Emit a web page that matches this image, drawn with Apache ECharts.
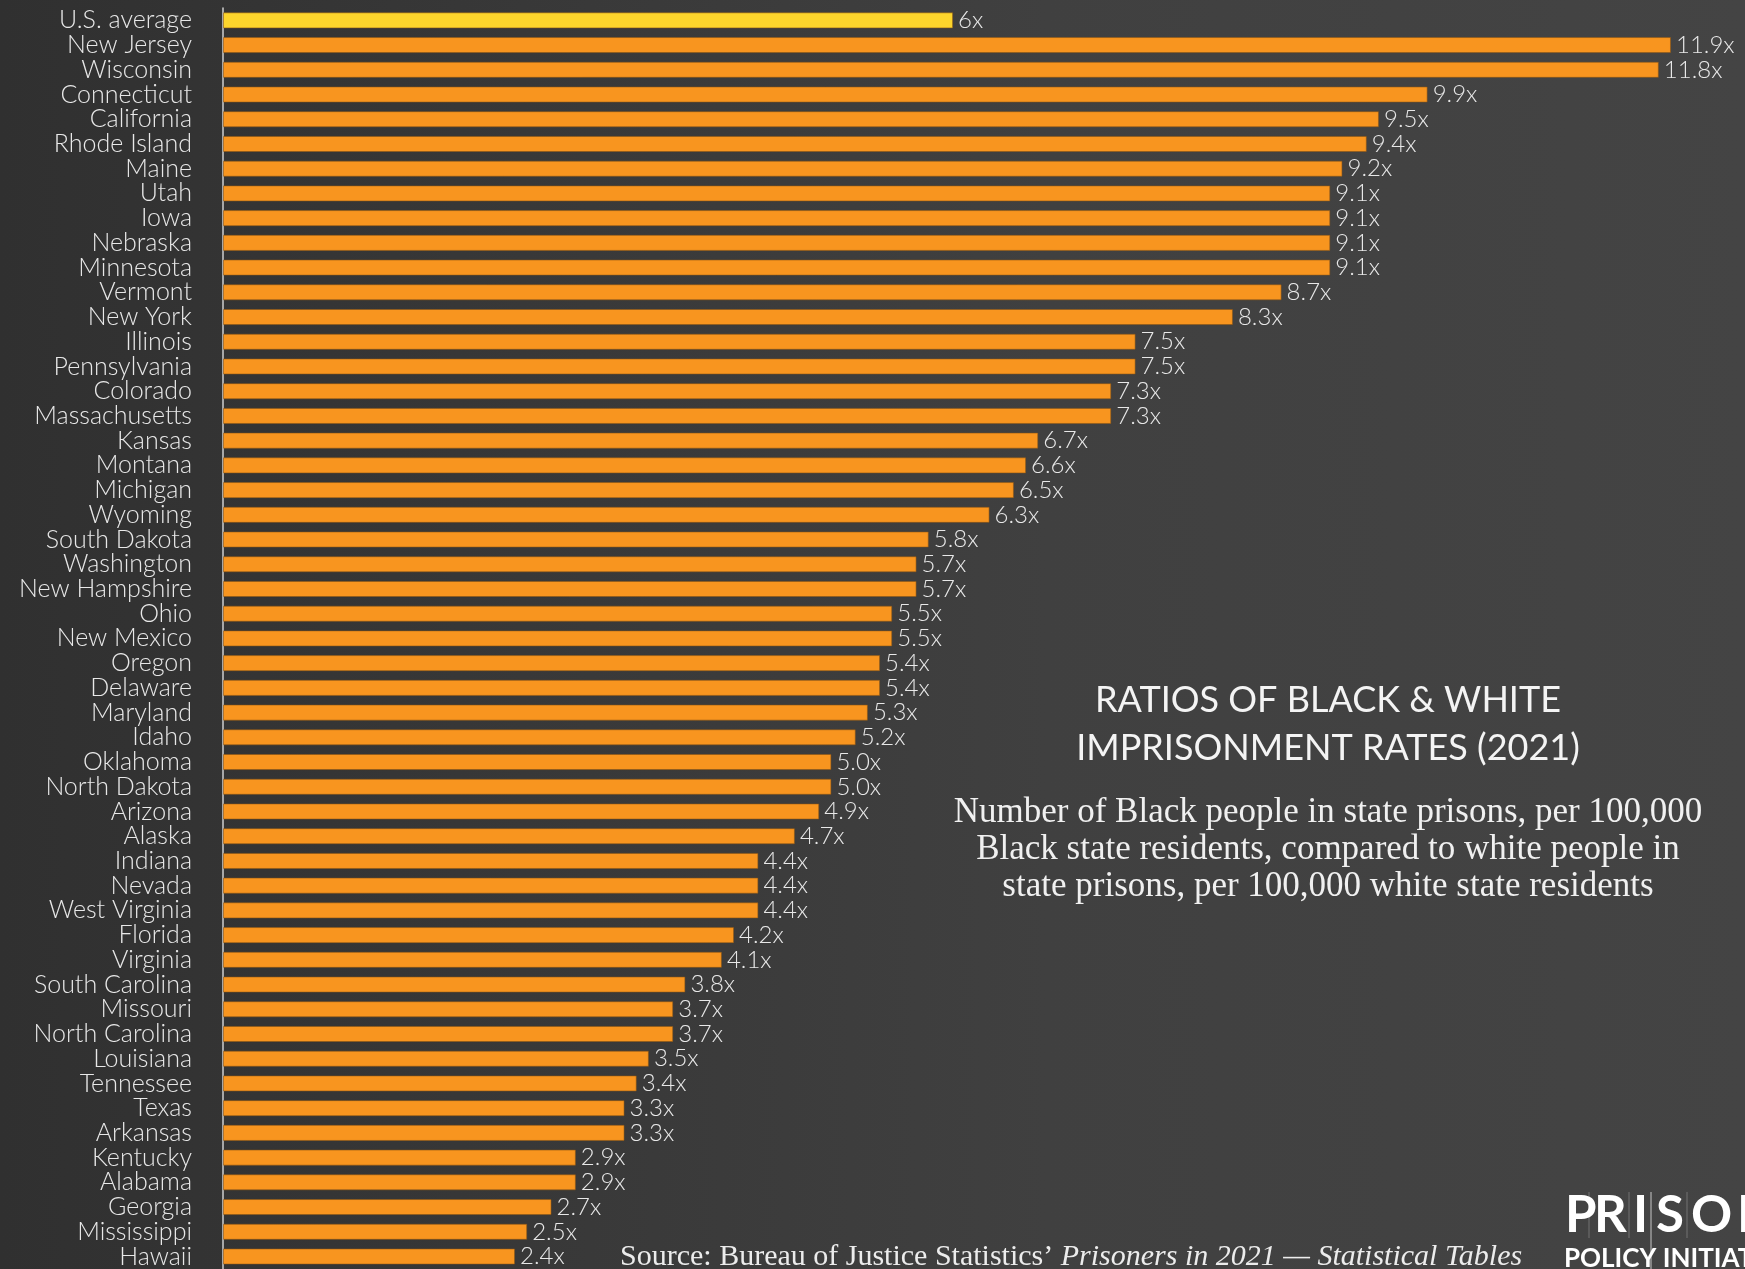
<!DOCTYPE html>
<html>
<head>
<meta charset="utf-8">
<script src="https://cdn.jsdelivr.net/npm/echarts@6/dist/echarts.min.js"></script>
<style>
  html, body { margin: 0; padding: 0; }
  #chart {
    width: 1745px; height: 1269px;
    background: linear-gradient(90deg, #303030 0%, #383838 30%, #404040 60%, #444444 100%);
  }
</style>
</head>
<body>
<div id="chart"></div>
<script>
const categories = ["U.S. average","New Jersey","Wisconsin","Connecticut","California","Rhode Island","Maine","Utah","Iowa","Nebraska","Minnesota","Vermont","New York","Illinois","Pennsylvania","Colorado","Massachusetts","Kansas","Montana","Michigan","Wyoming","South Dakota","Washington","New Hampshire","Ohio","New Mexico","Oregon","Delaware","Maryland","Idaho","Oklahoma","North Dakota","Arizona","Alaska","Indiana","Nevada","West Virginia","Florida","Virginia","South Carolina","Missouri","North Carolina","Louisiana","Tennessee","Texas","Arkansas","Kentucky","Alabama","Georgia","Mississippi","Hawaii"];
const ratios = [6,11.9,11.8,9.9,9.5,9.4,9.2,9.1,9.1,9.1,9.1,8.7,8.3,7.5,7.5,7.3,7.3,6.7,6.6,6.5,6.3,5.8,5.7,5.7,5.5,5.5,5.4,5.4,5.3,5.2,5.0,5.0,4.9,4.7,4.4,4.4,4.4,4.2,4.1,3.8,3.7,3.7,3.5,3.4,3.3,3.3,2.9,2.9,2.7,2.5,2.4];
const valueLabels = ["6x","11.9x","11.8x","9.9x","9.5x","9.4x","9.2x","9.1x","9.1x","9.1x","9.1x","8.7x","8.3x","7.5x","7.5x","7.3x","7.3x","6.7x","6.6x","6.5x","6.3x","5.8x","5.7x","5.7x","5.5x","5.5x","5.4x","5.4x","5.3x","5.2x","5.0x","5.0x","4.9x","4.7x","4.4x","4.4x","4.4x","4.2x","4.1x","3.8x","3.7x","3.7x","3.5x","3.4x","3.3x","3.3x","2.9x","2.9x","2.7x","2.5x","2.4x"];
const titleLines = ["RATIOS OF BLACK & WHITE", "IMPRISONMENT RATES (2021)"];
const subtitleLines = ["Number of Black people in state prisons, per 100,000", "Black state residents, compared to white people in", "state prisons, per 100,000 white state residents"];
const logoLetters = ["P", "R", "I", "S", "O", "N"];

const chart = echarts.init(document.getElementById('chart'), null, {renderer: 'canvas'});
const serifFont = '"Liberation Serif", "DejaVu Serif", serif';
const sansFont = 'Lato, "Noto Sans", sans-serif';

const logoX = [1565, 1594, 1633, 1656, 1691, 1737];
const logoGraphics = logoLetters.map((ch, i) => ({
  type: 'text', x: logoX[i], y: 1190,
  style: { text: ch, fill: '#ffffff', font: 'bold 51px ' + sansFont }
}));

const option = {
  backgroundColor: 'transparent',
  animation: false,
  grid: { left: 223, right: 1, top: 8, bottom: 0, containLabel: false },
  xAxis: { type: 'value', min: 0, max: 12.5, show: false },
  yAxis: {
    type: 'category',
    data: categories,
    inverse: true,
    axisTick: { show: false },
    axisLine: { show: true, lineStyle: { color: '#cfcfcf', width: 1.5 } },
    axisLabel: { interval: 0, color: '#e8e8e8', fontSize: 25, fontWeight: 300, fontFamily: sansFont, margin: 31 }
  },
  series: [{
    type: 'bar',
    data: ratios,
    barCategoryGap: '35%',
    itemStyle: {
      color: p => p.dataIndex === 0 ? '#FDD52C' : '#F8951F',
      borderColor: 'rgba(140,85,20,0.55)',
      borderWidth: 1
    },
    label: {
      show: true, position: 'right', distance: 5,
      formatter: p => valueLabels[p.dataIndex],
      color: '#e8e8e8', fontSize: 24, fontWeight: 300, fontFamily: sansFont
    }
  }],
  graphic: [
    { type: 'text', x: 1328, y: 676, style: { text: titleLines.join('\n'), textAlign: 'center', fill: '#f4f4f4', font: '36px ' + sansFont, lineHeight: 48 } },
    { type: 'text', x: 1328, y: 794, style: { text: subtitleLines.join('\n'), textAlign: 'center', fill: '#f0f0f0', font: '35px ' + serifFont, lineHeight: 37 } },
    { type: 'text', x: 620, y: 1242, style: {
        rich: {
          r: { fontFamily: serifFont, fontSize: 30, fill: '#ececec' },
          i: { fontFamily: serifFont, fontSize: 30, fontStyle: 'italic', fill: '#ececec' }
        },
        text: '{r|Source: Bureau of Justice Statistics’ }{i|Prisoners in 2021 — Statistical Tables}'
    } },
    ...logoGraphics,
    { type: 'text', x: 1564, y: 1246, style: { text: 'POLICY INITIATIVE', fill: '#ffffff', font: 'bold 26px ' + sansFont } },
    { type: 'line', shape: { x1: 1651, y1: 1192, x2: 1651, y2: 1269 }, style: { stroke: 'rgba(255,255,255,0.7)', lineWidth: 1 } },
    { type: 'line', shape: { x1: 1589, y1: 1192, x2: 1589, y2: 1238 }, style: { stroke: 'rgba(255,255,255,0.25)', lineWidth: 1 } },
    { type: 'line', shape: { x1: 1629, y1: 1192, x2: 1629, y2: 1238 }, style: { stroke: 'rgba(255,255,255,0.25)', lineWidth: 1 } },
    { type: 'line', shape: { x1: 1687, y1: 1192, x2: 1687, y2: 1238 }, style: { stroke: 'rgba(255,255,255,0.25)', lineWidth: 1 } }
  ]
};
chart.setOption(option);
</script>
</body>
</html>
